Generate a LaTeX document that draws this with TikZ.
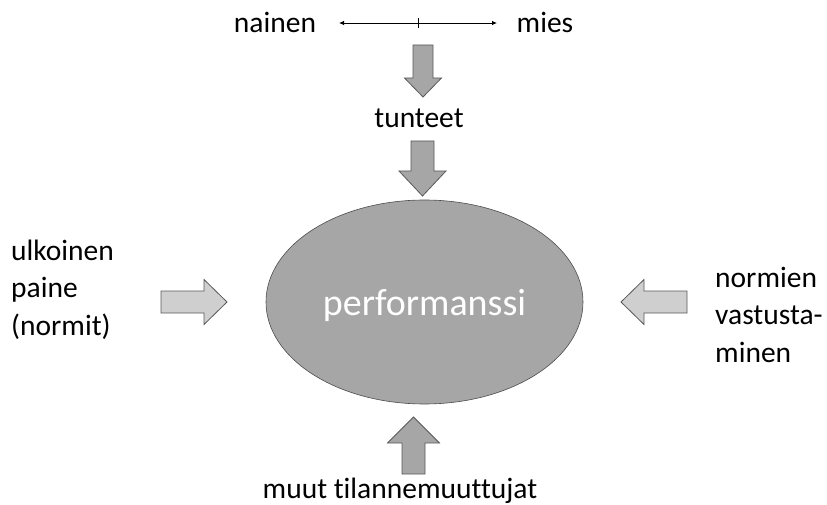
\documentclass[tikz,border=0pt]{standalone}
\usepackage{fontspec}
\setmainfont{Carlito}[Ligatures=NoCommon]
\usepackage{tikz}
\usetikzlibrary{positioning,shapes.geometric,arrows.meta,calc}

\begin{document}
\begin{tikzpicture}[
x=1pt,y=-1pt,
txt/.style={
  inner sep=0pt,
  font=\fontsize{29.5}{37.5}\selectfont},
lightarrow/.style={
  draw=black!65,
  fill=black!19,
  line width=0.8pt},
darkarrow/.style={
  draw=black!65,
  fill=black!35,
  line width=0.8pt},
pics/blockarrow/.style n args={4}{code={
  \draw[pic actions] (0,-#2) -- ({#1-#4},-#2) -- ({#1-#4},-#3) -- (#1,0)
    -- ({#1-#4},#3) -- ({#1-#4},#2) -- (0,#2) -- cycle;}}
]
\useasboundingbox (0,0) rectangle (827,505);
% central ellipse
\node[ellipse,draw=black!70,fill=black!35,line width=0.6pt,
  minimum width=317,minimum height=204,text=white,
  text height=30pt,text depth=4pt,
  font=\fontsize{38}{40}\selectfont] (perf) at (424.5,302) {performanssi};
% scale at the top
\coordinate (NL) at (339,23);
\coordinate (MR) at (497,23);
\draw[line width=0.8pt,{Latex[length=5pt,width=4.5pt]}-{Latex[length=5pt,width=4.5pt]}]
  (NL) -- (MR);
\coordinate (MID) at ($ (NL)!.5!(MR) $);
\draw[line width=0.6pt] ($ (MID)+(0,-5) $) -- ($ (MID)+(0,5) $);
\node[txt,anchor=base] (nainen) at (275,33) {nainen};
\node[txt,anchor=base] (mies) at (545,33) {mies};
\node[txt,anchor=base] (tunteet) at (419,128) {tunteet};
\node[txt,anchor=base] (muut) at (400,498) {muut tilannemuuttujat};
\node[txt,anchor=base west,align=left] (ulk) at (11,335) {ulkoinen\\paine\\(normit)};
\node[txt,anchor=base west,align=left] (norm) at (715,362) {normien\\vastusta-\\minen};
% block arrows
\pic[darkarrow,rotate=-90] at (423,45) {blockarrow={52}{10}{18.5}{19}};
\pic[darkarrow,rotate=-90] at (422.5,141) {blockarrow={55}{11.5}{23.5}{25}};
\pic[darkarrow,rotate=90] at (413.5,474) {blockarrow={57}{11.5}{26}{26}};
\pic[lightarrow] at (161,302) {blockarrow={66}{11}{22.5}{23}};
\pic[lightarrow,rotate=180] at (687,302) {blockarrow={66}{11}{22.5}{23}};
\end{tikzpicture}
\end{document}
